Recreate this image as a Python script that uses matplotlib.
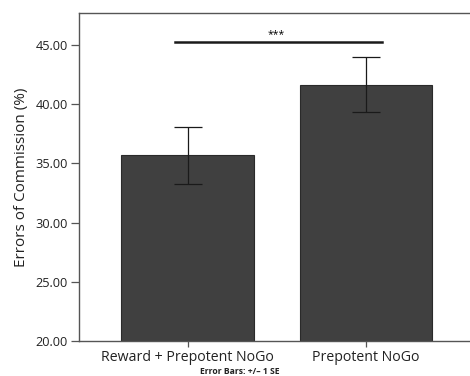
import matplotlib
matplotlib.use("Agg")
import matplotlib.pyplot as plt

categories = ["Reward + Prepotent NoGo", "Prepotent NoGo"]
means = [35.68, 41.65]
se = [2.4, 2.3]
y_ticks = [20, 25, 30, 35, 40, 45]
sig_label = "***"
sig_y = 45.23
note = "Error Bars: +/\u2013 1 SE"

plt.rcParams['font.family'] = ['Open Sans', 'DejaVu Sans']

fig = plt.figure(figsize=(4.70, 3.76), dpi=100)
W, H = 470, 376
ax = fig.add_axes([79 / W, 1 - 341 / H, (474.5 - 79) / W, (341 - 13) / H])

x = list(range(len(categories)))
ax.bar(x, [m - 20 for m in means], bottom=20, width=0.745, color="#404040",
       edgecolor="#2a2a2a", linewidth=0.8, zorder=2)
ax.errorbar(x, means, yerr=se, fmt="none", ecolor="#1a1a1a", elinewidth=0.9,
            capsize=10, capthick=0.9, zorder=3)

ax.set_xlim(-0.608, 1.608)
ax.set_ylim(20, 47.7)
ax.set_yticks(y_ticks)
ax.set_yticklabels([f"{v:.2f}" for v in y_ticks], fontsize=9.2, color="#222222")
ax.set_xticks(x)
ax.set_xticklabels(categories, fontsize=10.2, color="#222222")
ax.tick_params(axis="y", length=6, width=0.9, color="#555555", pad=2)
ax.tick_params(axis="x", length=4, width=0.9, color="#555555", pad=2.5)
ax.set_ylabel("Errors of Commission (%)", fontsize=11, labelpad=5, color="#222222")
for s in ax.spines.values():
    s.set_color("#555555")
    s.set_linewidth(1.0)

ax.plot([-0.07, 1.088], [sig_y, sig_y], color="#1a1a1a", linewidth=1.8, zorder=3)
ax.text(0.496, sig_y + 0.15, sig_label, ha="center", va="bottom", fontsize=7.5)

fig.text(239.5 / W, 1 - 371.5 / H, note, ha="center", va="center", fontsize=6.2,
         fontweight="bold", color="#222222")

fig.savefig("out.png", dpi=100)
